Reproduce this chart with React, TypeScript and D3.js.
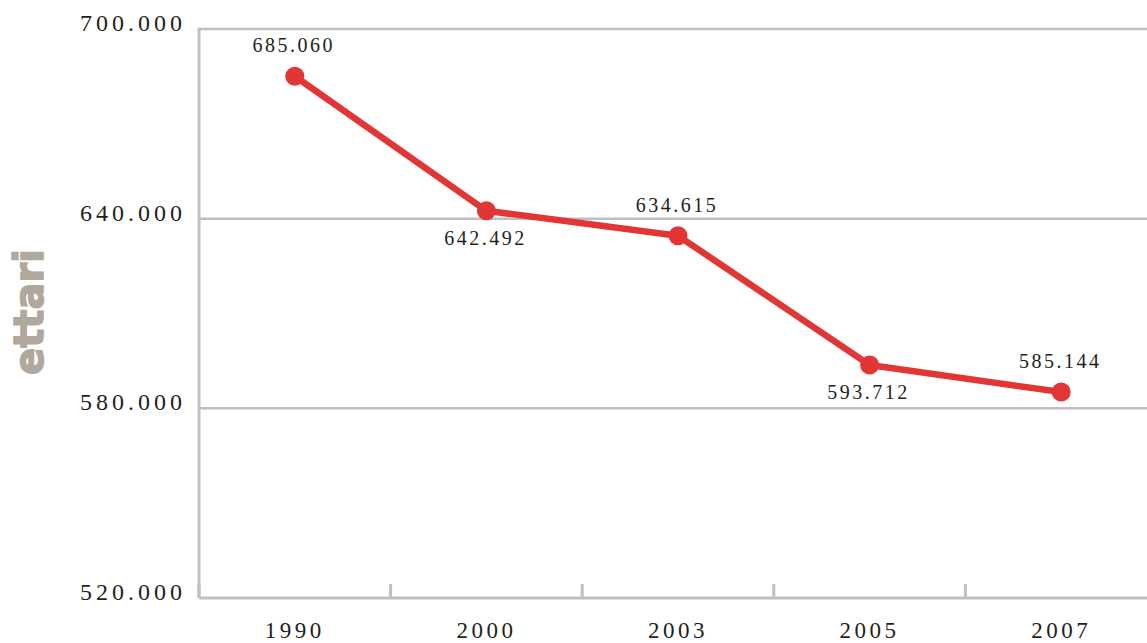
import React, { useRef, useEffect } from 'react';
import * as d3 from 'd3';

const years = ['1990', '2000', '2003', '2005', '2007'];
const values = [685060, 642492, 634615, 593712, 585144];
const labels = ['685.060', '642.492', '634.615', '593.712', '585.144'];
const labelAbove = [true, false, true, false, true];
const yTicks = [520000, 580000, 640000, 700000];
const yTickLabels = ['520.000', '580.000', '640.000', '700.000'];

const W = 1147;
const H = 643;

const App: React.FC = () => {
  const svgRef = useRef<SVGSVGElement | null>(null);

  useEffect(() => {
    if (!svgRef.current) return;
    const svg = d3.select(svgRef.current);
    svg.selectAll('*').remove();

    const left = 199;
    const top = 29;
    const bottom = 598;

    const x = d3.scaleBand<string>().domain(years).range([left, left + 958]);
    const y = d3.scaleLinear().domain([520000, 700000]).range([bottom, top]);

    const gridColor = '#bfbfc3';
    const serif = "'Liberation Serif', 'DejaVu Serif', serif";

    // horizontal grid lines
    svg
      .selectAll('line.grid')
      .data(yTicks.slice(1))
      .join('line')
      .attr('class', 'grid')
      .attr('x1', left)
      .attr('x2', W)
      .attr('y1', (d) => y(d))
      .attr('y2', (d) => y(d))
      .attr('stroke', gridColor)
      .attr('stroke-width', 2.5);

    // y axis line
    svg
      .append('line')
      .attr('x1', left)
      .attr('x2', left)
      .attr('y1', top - 1.25)
      .attr('y2', bottom)
      .attr('stroke', gridColor)
      .attr('stroke-width', 3);

    // x axis line
    svg
      .append('line')
      .attr('x1', left)
      .attr('x2', W)
      .attr('y1', bottom)
      .attr('y2', bottom)
      .attr('stroke', gridColor)
      .attr('stroke-width', 3);

    // x ticks at band boundaries
    const bounds = years.map((yr) => x(yr) as number);
    svg
      .selectAll('line.xtick')
      .data(bounds)
      .join('line')
      .attr('class', 'xtick')
      .attr('x1', (d) => d)
      .attr('x2', (d) => d)
      .attr('y1', bottom - 14)
      .attr('y2', bottom)
      .attr('stroke', gridColor)
      .attr('stroke-width', 3);

    // y tick labels
    svg
      .selectAll('text.ylab')
      .data(yTicks)
      .join('text')
      .attr('class', 'ylab')
      .attr('x', 186)
      .attr('y', (d) => y(d) + 2)
      .attr('text-anchor', 'end')
      .attr('font-family', serif)
      .attr('font-size', 24)
      .attr('letter-spacing', 4)
      .attr('fill', '#231f20')
      .text((d, i) => yTickLabels[i]);

    // x labels
    svg
      .selectAll('text.xlab')
      .data(years)
      .join('text')
      .attr('class', 'xlab')
      .attr('x', (d) => (x(d) as number) + x.bandwidth() / 2)
      .attr('y', 638)
      .attr('text-anchor', 'middle')
      .attr('font-family', serif)
      .attr('font-size', 23)
      .attr('letter-spacing', 3.5)
      .attr('fill', '#231f20')
      .text((d) => d);

    // axis title
    svg
      .append('text')
      .attr('transform', 'translate(43,312) rotate(-90)')
      .attr('text-anchor', 'middle')
      .attr('font-family', "'DejaVu Sans', sans-serif")
      .attr('font-weight', 'bold')
      .attr('font-size', 40)
      .attr('fill', '#b1a89d')
      .attr('stroke', '#b1a89d')
      .attr('stroke-width', 1.5)
      .text('ettari');

    const cx = (i: number) => (x(years[i]) as number) + x.bandwidth() / 2;

    // the line
    const line = d3
      .line<number>()
      .x((d, i) => cx(i))
      .y((d) => y(d));

    svg
      .append('path')
      .datum(values)
      .attr('d', line)
      .attr('fill', 'none')
      .attr('stroke', '#e23636')
      .attr('stroke-width', 6.5)
      .attr('stroke-linejoin', 'round');

    svg
      .selectAll('circle')
      .data(values)
      .join('circle')
      .attr('cx', (d, i) => cx(i))
      .attr('cy', (d) => y(d))
      .attr('r', 9.5)
      .attr('fill', '#e23636');

    // value labels
    svg
      .selectAll('text.vlab')
      .data(values)
      .join('text')
      .attr('class', 'vlab')
      .attr('x', (d, i) => cx(i) - 1)
      .attr('y', (d, i) => y(d) + (labelAbove[i] ? -24 : 34))
      .attr('text-anchor', 'middle')
      .attr('font-family', serif)
      .attr('font-size', 20)
      .attr('letter-spacing', 2.5)
      .attr('fill', '#231f20')
      .text((d, i) => labels[i]);
  }, []);

  return (
    <svg
      ref={svgRef}
      width={W}
      height={H}
      style={{ position: 'absolute', left: 0, top: 0, background: '#fff' }}
    ></svg>
  );
};

export default App;
